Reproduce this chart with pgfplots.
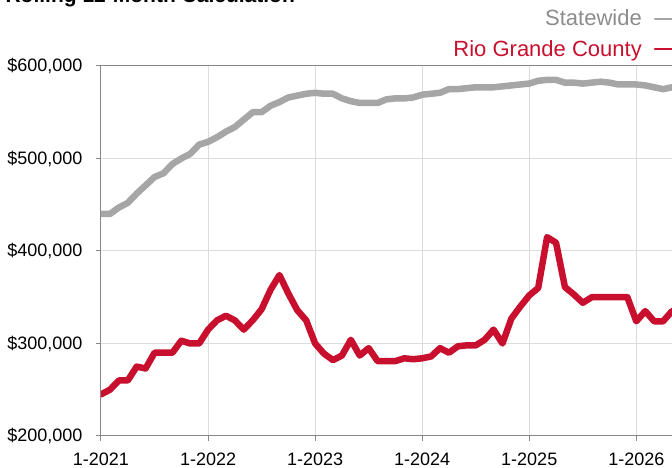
\documentclass[border=0pt]{standalone}
\usepackage{pgfplots}
\pgfplotsset{compat=1.18}
\usepackage{pgfplotstable}
\usepackage{fontspec}
\setmainfont{Liberation Sans}
\definecolor{stgray}{RGB}{166,166,166}
\definecolor{rgred}{RGB}{200,16,46}
\definecolor{gridgray}{RGB}{220,220,220}
\definecolor{axgray}{RGB}{135,135,135}
\definecolor{leggray}{RGB}{140,140,140}

\pgfplotstableread{
m v
0 440000
1 440000
2 447000
3 452000
4 462000
5 471000
6 480000
7 484000
8 494000
9 500000
10 505000
11 515000
12 518000
13 523000
14 529000
15 534000
16 542000
17 550000
18 550000
19 557000
20 561000
21 566000
22 568000
23 570000
24 571000
25 570000
26 570000
27 565000
28 562000
29 560000
30 560000
31 560000
32 564000
33 565000
34 565000
35 566000
36 569000
37 570000
38 571000
39 575000
40 575000
41 576000
42 577000
43 577000
44 577000
45 578000
46 579000
47 580000
48 581000
49 584000
50 585000
51 585000
52 582000
53 582000
54 581000
55 582000
56 583000
57 582000
58 580000
59 580000
60 580000
61 579000
62 577000
63 575000
64 577000
}\statewide

\pgfplotstableread{
m v
0 245000
1 250000
2 260000
3 260000
4 275000
5 273000
6 290000
7 290000
8 290000
9 303000
10 300000
11 300000
12 315000
13 325000
14 330000
15 325000
16 315000
17 325000
18 337000
19 358000
20 374000
21 354000
22 336000
23 325000
24 300000
25 289000
26 282000
27 287000
28 304000
29 287000
30 295000
31 281000
32 281000
33 281000
34 284000
35 283000
36 284000
37 286000
38 295000
39 290000
40 297000
41 298000
42 298000
43 304000
44 315000
45 300000
46 327000
47 340000
48 352000
49 360000
50 415000
51 409000
52 361000
53 353000
54 344000
55 350000
56 350000
57 350000
58 350000
59 350000
60 324000
61 335000
62 324000
63 324000
64 335000
}\riogrande

\begin{document}
\begin{tikzpicture}
\begin{axis}[
  name=ax,
  scale only axis,
  width=571pt, height=370pt,
  xmin=0, xmax=64,
  ymin=200000, ymax=600000,
  scaled y ticks=false,
  axis x line=box,
  axis y line=left,
  axis line style={axgray, line width=1pt, -},
  xtick pos=bottom,
  ytick pos=left,
  xtick={0,12,24,36,48,60},
  xticklabels={1-2021,1-2022,1-2023,1-2024,1-2025,1-2026},
  ytick={200000,300000,400000,500000,600000},
  yticklabels={{\$200,000},{\$300,000},{\$400,000},{\$500,000},{\$600,000}},
  tick align=outside,
  major tick length=5pt,
  tick style={axgray, line width=1pt},
  grid=major,
  grid style={gridgray, line width=1pt},
  ticklabel style={font=\fontsize{18}{21}\selectfont, text=black},
  yticklabel style={xshift=-10pt},
  xticklabel style={yshift=-8pt},
  legend plot pos=right,
  legend cell align=right,
  legend style={at={(1,1)}, anchor=south east, xshift=6pt, yshift=6pt,
    draw=none, fill=none, inner sep=0pt, row sep=9pt,
    font=\fontsize{22}{26}\selectfont,
    /tikz/every odd column/.append style={column sep=10pt}},
  legend image code/.code={\draw[#1, line width=2pt] (0pt,0pt) -- (22pt,0pt);},
]
\addplot[stgray, line width=6.5pt, line join=round, line cap=round] table[x=m, y=v] {\statewide};
\addlegendentry{\textcolor{leggray}{Statewide}}
\addplot[rgred, line width=6.5pt, line join=round, line cap=round] table[x=m, y=v] {\riogrande};
\addlegendentry{\textcolor{rgred}{Rio Grande County}}
\end{axis}
\node[anchor=base west, font=\bfseries\fontsize{21}{25}\selectfont] at ([shift={(-99pt,63pt)}]ax.north west) {Rolling 12-Month Calculation};
\pgfresetboundingbox
\path[use as bounding box] ([shift={(-101pt,-32pt)}]ax.south west) rectangle ([shift={(0pt,66pt)}]ax.north east);
\end{tikzpicture}
\end{document}
